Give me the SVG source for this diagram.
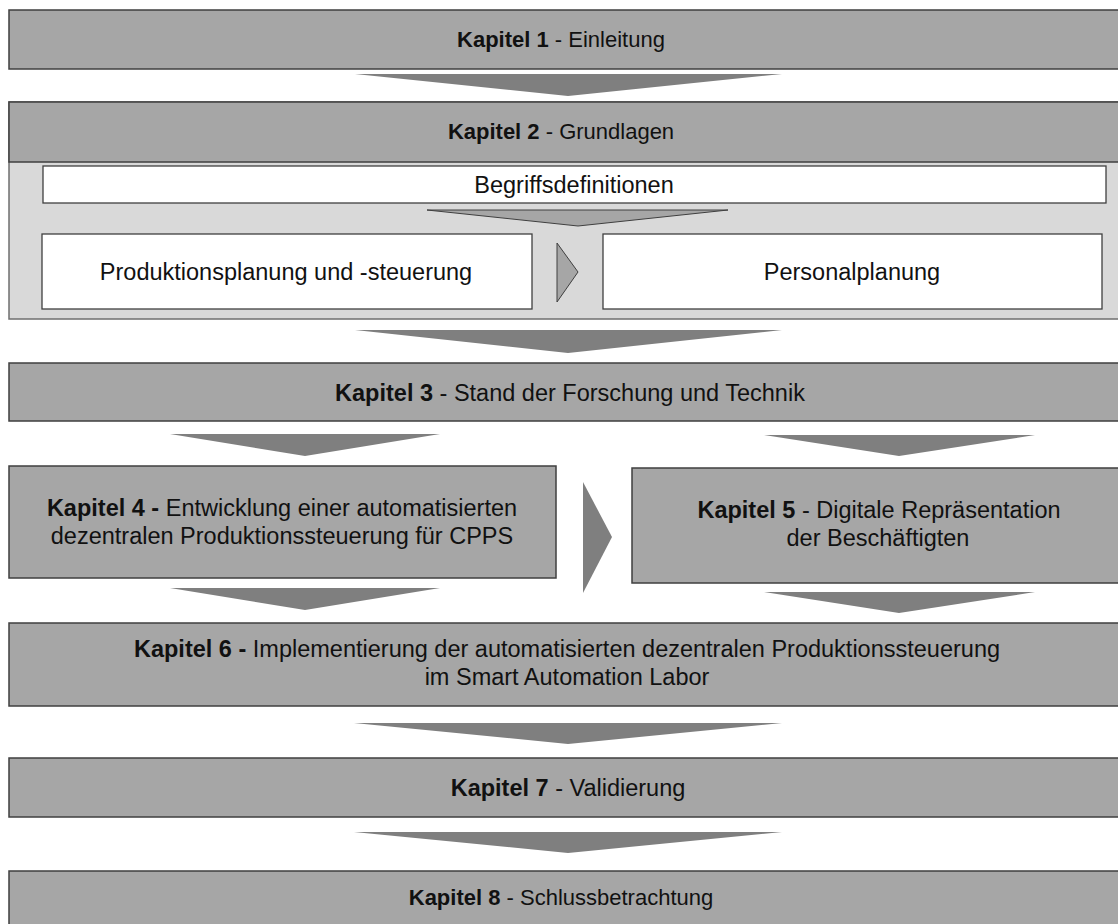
<svg xmlns="http://www.w3.org/2000/svg" width="1118" height="924" viewBox="0 0 1118 924">
  <style>
    .box { fill: #a6a6a6; stroke: #3f3f3f; stroke-width: 1.5; }
    .panel { fill: #d9d9d9; stroke: #6f6f6f; stroke-width: 1.5; }
    .white { fill: #ffffff; stroke: #3f3f3f; stroke-width: 1.3; }
    .arrow { fill: #7f7f7f; stroke: none; }
    .arrow-small { fill: #a6a6a6; stroke: #3f3f3f; stroke-width: 1; }
    text { font-family: "Liberation Sans", Arial, sans-serif; font-size: 23.5px; fill: #111111; text-anchor: middle; }
    .sm { font-size: 22px; }
    .b { font-weight: bold; }
  </style>
  <rect width="1118" height="924" fill="#ffffff"/>

  <g id="connectors">
    <polygon class="arrow" points="355,74 782,74 568,96"/>
    <polygon class="arrow" points="355,330 782,330 568,353"/>
    <polygon class="arrow" points="170,434 440,434 305,456"/>
    <polygon class="arrow" points="764,435 1035,435 899,456"/>
    <polygon class="arrow" points="583,482 612,537 583,593"/>
    <polygon class="arrow" points="170,588 440,588 305,610"/>
    <polygon class="arrow" points="764,592 1035,592 899,613"/>
    <polygon class="arrow" points="354,723 782,723 568,744"/>
    <polygon class="arrow" points="354,832 782,832 568,853"/>
  </g>

  <g id="kapitel1">
    <rect class="box" x="9" y="10" width="1115" height="59"/>
    <text class="sm" x="561" y="47"><tspan class="b">Kapitel 1</tspan> - Einleitung</text>
  </g>

  <g id="kapitel2">
    <rect class="panel" x="9" y="102" width="1115" height="217"/>
    <rect class="box" x="9" y="102" width="1115" height="60"/>
    <text class="sm" x="561" y="139"><tspan class="b">Kapitel 2</tspan> - Grundlagen</text>
  </g>

  <g id="begriffsdefinitionen">
    <rect class="white" x="43" y="166" width="1063" height="37"/>
    <text x="574" y="193">Begriffsdefinitionen</text>
  </g>

  <g id="inner-connectors">
    <polygon class="arrow-small" points="427,210 728,210 578,226"/>
    <polygon class="arrow-small" points="557,243 578,272 557,302"/>
  </g>

  <g id="pps">
    <rect class="white" x="42" y="234" width="490" height="75"/>
    <text x="286" y="280">Produktionsplanung und -steuerung</text>
  </g>

  <g id="personalplanung">
    <rect class="white" x="603" y="234" width="499" height="75"/>
    <text x="852" y="280">Personalplanung</text>
  </g>

  <g id="kapitel3">
    <rect class="box" x="9" y="363" width="1115" height="58"/>
    <text x="570" y="401"><tspan class="b">Kapitel 3</tspan> - Stand der Forschung und Technik</text>
  </g>

  <g id="kapitel4">
    <rect class="box" x="9" y="466" width="547" height="112"/>
    <text x="282" y="516"><tspan class="b">Kapitel 4 -</tspan> Entwicklung einer automatisierten</text>
    <text x="282" y="544">dezentralen Produktionssteuerung für CPPS</text>
  </g>

  <g id="kapitel5">
    <rect class="box" x="632" y="468" width="492" height="115"/>
    <text x="879" y="518"><tspan class="b">Kapitel 5</tspan> - Digitale Repräsentation</text>
    <text x="878" y="546">der Beschäftigten</text>
  </g>

  <g id="kapitel6">
    <rect class="box" x="9" y="623" width="1115" height="83"/>
    <text x="567" y="657"><tspan class="b">Kapitel 6 -</tspan> Implementierung der automatisierten dezentralen Produktionssteuerung</text>
    <text x="567" y="685">im Smart Automation Labor</text>
  </g>

  <g id="kapitel7">
    <rect class="box" x="9" y="758" width="1115" height="59"/>
    <text x="568" y="796"><tspan class="b">Kapitel 7</tspan> - Validierung</text>
  </g>

  <g id="kapitel8">
    <rect class="box" x="9" y="871" width="1115" height="70"/>
    <text class="sm" x="561" y="905"><tspan class="b">Kapitel 8</tspan> - Schlussbetrachtung</text>
  </g>
</svg>
